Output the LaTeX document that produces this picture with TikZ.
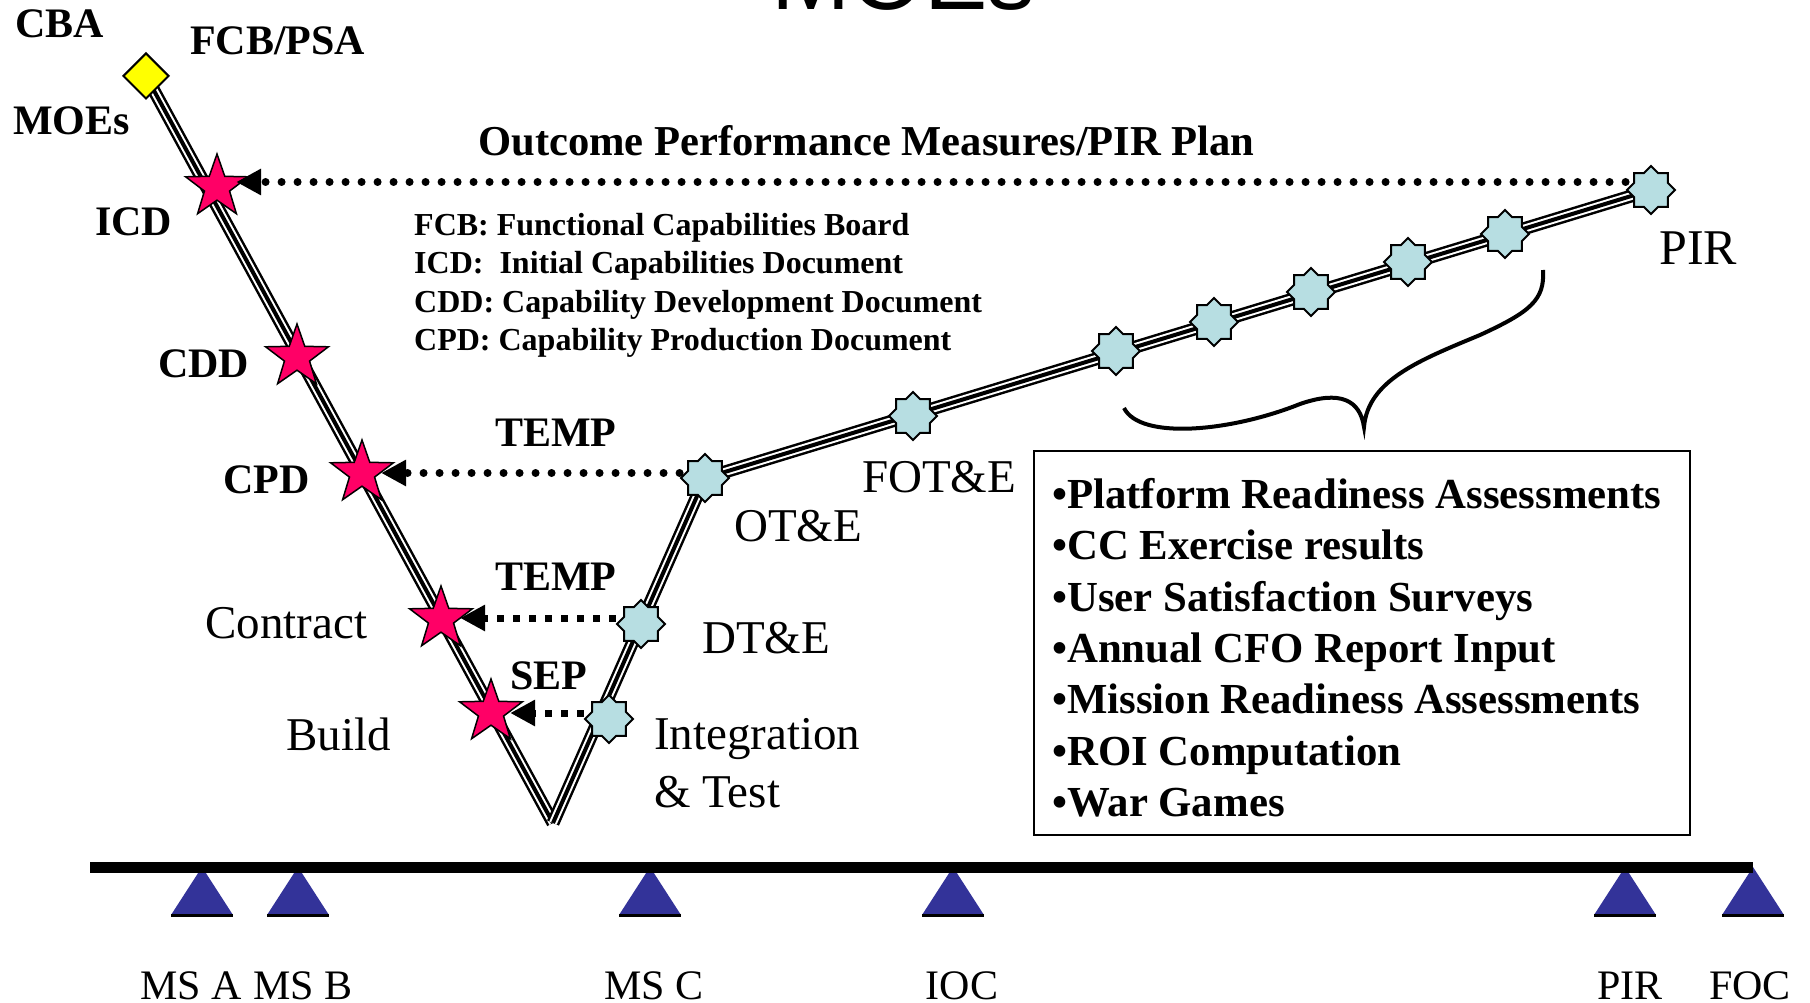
\documentclass[tikz,border=0pt]{standalone}
\usepackage{fontspec}
\setmainfont{Liberation Serif}
\newfontfamily\slidefont{Liberation Sans}
\usetikzlibrary{arrows.meta, positioning, shapes.geometric}
\definecolor{my_red}{RGB}{255, 0, 102}
\definecolor{my_cyan}{RGB}{183, 222, 226}
\definecolor{my_navy}{RGB}{51, 51, 153}
\definecolor{my_yellow}{RGB}{255, 255, 0}
\tikzset {
  review/.style = {star, star points=5, star point ratio=2.5, draw, line width=1.5pt, fill=my_red, minimum size=66pt, inner sep=0},
  event/.style = {star, star points=8, star point ratio=1.31, draw, line width=2pt, fill=my_cyan, minimum size=48pt, inner sep=0},
  gate/.style = {diamond, draw, line width=2pt, fill=my_yellow, minimum size=46pt, inner sep=0},
  track/.style = {draw=black, line width=13pt, postaction={draw=white, line width=8pt}, postaction={draw=black, line width=4pt}},
  plan/.style = {-{Triangle[length=25pt, width=25pt]}, line width=8pt, dash pattern=on 0pt off 16pt, line cap=round},
  handoff/.style = {-{Triangle[length=25pt, width=25pt]}, line width=7pt, dash pattern=on 7pt off 9pt},
  tag/.style = {font=\fontsize{42}{50}\selectfont\bfseries, inner sep=0, anchor=base west},
  phase/.style = {font=\fontsize{47}{58}\selectfont, inner sep=0, anchor=base west},
  glossary/.style = {font=\fontsize{32}{38.5}\selectfont\bfseries, align=left, inner sep=0, anchor=north west},
  panel/.style = {draw, line width=2pt, minimum width=656pt, minimum height=384pt, inner sep=0},
  items/.style = {font=\fontsize{42.8}{51.4}\selectfont\bfseries, align=left, inner sep=0, anchor=north west},
  mslabel/.style = {font=\fontsize{42}{50}\selectfont, inner sep=0, text depth=0pt, anchor=base},
  slide title/.style = {font=\fontsize{95}{100}\selectfont\slidefont, inner sep=0, anchor=base}
}
\pgfdeclarelayer{background}
\pgfsetlayers{background,main}

\begin{document}
\begin{tikzpicture}[x=1pt, y=-1pt]
    \useasboundingbox (0,0) rectangle (1810,1003);

    \node[slide title] (title) at (903,9.5) {MOEs};

    % left leg of the V
    \node[gate] (cba) at (146,76) {};
    \node[review] (icd) at (217,187) {};
    \node[review] (cdd) at (297,357) {};
    \node[review] (cpd) at (362,473) {};
    \node[review] (contract) at (441,619) {};
    \node[review] (build) at (491,712) {};
    \coordinate (vtip) at (553,823);

    % right leg of the V
    \node[event] (integ) at (609,719) {};
    \node[event] (dtae) at (641,624) {};
    \node[event] (otae) at (705,478) {};
    \node[event] (fotae) at (913,416) {};
    \node[event] (ev1) at (1116,351) {};
    \node[event] (ev2) at (1214,322) {};
    \node[event] (ev3) at (1311,292) {};
    \node[event] (ev4) at (1408,262) {};
    \node[event] (ev5) at (1505,234) {};
    \node[event] (pir) at (1651,190) {};

    \begin{pgfonlayer}{background}
        \path[track] (cba.center) -- (vtip);
        \path[track] (vtip) -- (otae.center) -- (pir.center);
    \end{pgfonlayer}

    \node[tag] (cba_lbl) at (15,38) {CBA};
    \node[tag] (fcb_lbl) at (190,55) {FCB/PSA};
    \node[tag] (moe_lbl) at (13,135) {MOEs};
    \node[tag] (icd_lbl) at (95,236) {ICD};
    \node[tag] (cdd_lbl) at (158,377) {CDD};
    \node[tag] (cpd_lbl) at (223,493) {CPD};
    \node[phase] (contract_lbl) at (205,638) {Contract};
    \node[phase] (build_lbl) at (286,750) {Build};

    \node[tag, font=\fontsize{42.6}{50}\selectfont\bfseries] (plan_lbl) at (478,156) {Outcome Performance Measures/PIR Plan};
    \node[glossary] (glossary) at (414,213) {FCB: Functional Capabilities Board\\ICD:~ Initial Capabilities Document\\CDD: Capability Development Document\\CPD: Capability Production Document};
    \node[tag] (temp_ot) at (495,446) {TEMP};
    \node[tag] (temp_dt) at (495,590) {TEMP};
    \node[tag] (sep_lbl) at (510,689) {SEP};

    \node[phase] (otae_lbl) at (734,541) {OT\&E};
    \node[phase] (fotae_lbl) at (862,492) {FOT\&E};
    \node[phase] (dtae_lbl) at (702,653) {DT\&E};
    \node[phase, align=left, anchor=north west] (integ_lbl) at (654,718) {Integration\\\& Test};
    \node[phase, font=\fontsize{50}{60}\selectfont] (pir_lbl) at (1659,265) {PIR};

    % arrows back to the left leg
    \coordinate (plan_start) at ([yshift=8pt]pir.west);
    \draw[plan] (plan_start) -- (plan_start -| icd.east);
    \coordinate (ot_start) at ([yshift=5pt]otae.west);
    \draw[plan] (ot_start) -- (ot_start -| cpd.east);
    \coordinate (dt_start) at ([yshift=6pt]dtae.west);
    \draw[handoff] (dt_start) -- (dt_start -| contract.east);
    \coordinate (it_start) at ([yshift=6pt]integ.west);
    \draw[handoff] (it_start) -- (it_start -| build.east);

    % brace and list of outcome measures
    \draw[line width=4pt] (1124,408) .. controls (1140,440) and (1230,432) .. (1300,404) .. controls (1340,390) and (1360,400) .. (1364,427) .. controls (1368,380) and (1420,360) .. (1480,335) .. controls (1530,312) and (1545,300) .. (1543,270);
    \node[panel] (box) at (1362,643) {};
    \node[items] (outcomes) at ([xshift=19pt, yshift=-28pt]box.north west) {\textbullet Platform Readiness Assessments\\\textbullet CC Exercise results\\\textbullet User Satisfaction Surveys\\\textbullet Annual CFO Report Input\\\textbullet Mission Readiness Assessments\\\textbullet ROI Computation\\\textbullet War Games};

    % milestone time line
    \foreach \x/\lx/\name in {202/191/MS A, 298/303/MS B, 650/654/MS C, 953/962/IOC, 1625/1630/PIR, 1753/1750/FOC} {
        \fill[my_navy] (\x-31,915) -- (\x,867) -- (\x+31,915) -- cycle;
        \draw[line width=3pt] (\x-31,915) -- (\x+31,915);
        \node[mslabel] (ms\lx) at (\lx,999) {\name};
    }
    \draw[line width=11pt] (90,867.5) -- (1753,867.5);

\end{tikzpicture}
\end{document}
